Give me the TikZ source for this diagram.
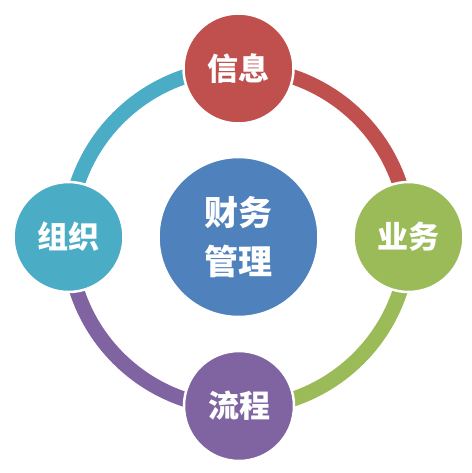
\documentclass[tikz,border=0pt]{standalone}
\usepackage{fontspec}
\newfontfamily\cjk{Noto Sans CJK SC}
\definecolor{cred}{HTML}{C0504D}
\definecolor{cgreen}{HTML}{9BBB59}
\definecolor{cpurple}{HTML}{8064A2}
\definecolor{cteal}{HTML}{4BACC6}
\definecolor{cblue}{HTML}{4F81BD}
\tikzset{
  ring/.style={line width=15pt},
  small/.style={circle, draw=white, line width=2.5pt, minimum size=110pt, inner sep=0pt,
    text=white, font=\cjk\bfseries\fontsize{31pt}{36pt}\selectfont},
  big/.style={circle, draw=white, line width=2.5pt, minimum size=160pt, inner sep=0pt,
    text=white, align=center, font=\cjk\bfseries\fontsize{34pt}{49pt}\selectfont}
}
\begin{document}
\begin{tikzpicture}[x=1pt,y=-1pt]
\useasboundingbox (0,0) rectangle (471,473);
\coordinate (c) at (238.5,238);
% ring arcs
\draw[ring,cred] (c) ++(90:-170) arc[start angle=-90,end angle=0,radius=170];
\draw[ring,cgreen] (c) ++(170,0) arc[start angle=0,end angle=90,radius=170];
\draw[ring,cpurple] (c) ++(0,170) arc[start angle=90,end angle=180,radius=170];
\draw[ring,cteal] (c) ++(-170,0) arc[start angle=180,end angle=270,radius=170];
% nodes
\node[big,fill=cblue] (m) at (238.5,237) {财务\\管理};
\node[small,fill=cred] (t) at (238.5,68.5) {信息};
\node[small,fill=cgreen] (r) at (408.5,237) {业务};
\node[small,fill=cpurple] (b) at (239,406) {流程};
\node[small,fill=cteal] (l) at (68.5,237) {组织};
\end{tikzpicture}
\end{document}
